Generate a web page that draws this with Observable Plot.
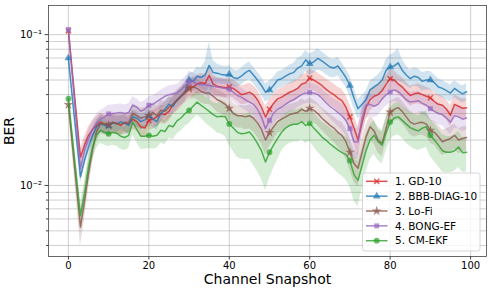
<!DOCTYPE html>
<html><head><meta charset="utf-8">
<script src="https://cdn.jsdelivr.net/npm/d3@7"></script>
<script src="https://cdn.jsdelivr.net/npm/@observablehq/plot@0.6"></script>
<style>body{margin:0;background:#fff}svg{display:block}</style>
</head><body><div id="chart"></div>
<script>
const snapshots = d3.range(100);
const seriesNames = ["1. GD-10", "2. BBB-DIAG-10", "3. Lo-Fi", "4. BONG-EF", "5. CM-EKF"];
const xTicks = [0, 20, 40, 60, 80, 100];
const yMajorTicks = [0.01, 0.1];
const yMajorLabels = ["10⁻²", "10⁻¹"];
const yMinorTicks = [0.004,0.005,0.006,0.007,0.008,0.009,0.02,0.03,0.04,0.05,0.06,0.07,0.08,0.09];

const gd10 = [0.106,0.0557,0.0293,0.0154,0.0185,0.0215,0.0235,0.0250,0.0263,0.0255,
0.0250,0.0262,0.0258,0.0250,0.0262,0.0255,0.0275,0.0265,0.0245,0.0240,
0.0270,0.0275,0.0285,0.0300,0.0295,0.0310,0.0345,0.0365,0.0390,0.0410,
0.0445,0.0450,0.0470,0.0480,0.0475,0.0537,0.0470,0.0455,0.0450,0.0445,
0.0450,0.0440,0.0420,0.0400,0.0405,0.0416,0.0400,0.0370,0.0330,0.0284,
0.0320,0.0350,0.0375,0.0385,0.0400,0.0415,0.0425,0.0440,0.0470,0.0480,
0.0515,0.0500,0.0480,0.0460,0.0435,0.0416,0.0400,0.0380,0.0365,0.0330,
0.0285,0.0240,0.0201,0.0260,0.0330,0.0370,0.0390,0.0400,0.0425,0.0470,
0.0510,0.0500,0.0470,0.0450,0.0420,0.0395,0.0405,0.0410,0.0400,0.0390,
0.0381,0.0360,0.0345,0.0340,0.0320,0.0292,0.0345,0.0335,0.0325,0.0328];

const bbbDiag10 = [0.070,0.038,0.021,0.0114,0.0147,0.0179,0.0215,0.0244,0.0257,0.0250,
0.0248,0.0262,0.0255,0.0265,0.0258,0.0250,0.0285,0.0280,0.0265,0.0272,
0.0290,0.0275,0.0265,0.0300,0.0320,0.0345,0.0335,0.0370,0.0390,0.0420,
0.0500,0.0490,0.0530,0.0520,0.0540,0.0625,0.0560,0.0555,0.0545,0.0540,
0.0545,0.0520,0.0510,0.0530,0.0560,0.0580,0.0540,0.0500,0.0460,0.0415,
0.0430,0.0460,0.0500,0.0510,0.0530,0.0550,0.0560,0.0600,0.0620,0.0680,
0.0640,0.0660,0.0695,0.0670,0.0640,0.0610,0.0600,0.0620,0.0570,0.0520,
0.0460,0.0380,0.0323,0.0345,0.0370,0.0430,0.0450,0.0470,0.0500,0.0580,
0.0610,0.0620,0.0650,0.0580,0.0540,0.0510,0.0530,0.0520,0.0490,0.0500,
0.0500,0.0480,0.0450,0.0440,0.0425,0.0410,0.0440,0.0420,0.0405,0.0418];

const loFi = [0.0343,0.0184,0.0099,0.0053,0.0078,0.0120,0.0172,0.0228,0.0258,0.0255,
0.0251,0.0260,0.0258,0.0255,0.0260,0.0262,0.0300,0.0290,0.0280,0.0285,
0.0290,0.0305,0.0290,0.0315,0.0310,0.0330,0.0345,0.0370,0.0390,0.0420,
0.0438,0.0450,0.0440,0.0420,0.0410,0.0410,0.0390,0.0370,0.0360,0.0345,
0.0325,0.0300,0.0290,0.0290,0.0285,0.0290,0.0280,0.0260,0.0235,0.0200,
0.0224,0.0245,0.0265,0.0275,0.0285,0.0295,0.0300,0.0305,0.0320,0.0310,
0.0325,0.0315,0.0300,0.0280,0.0265,0.0251,0.0240,0.0225,0.0215,0.0195,
0.0166,0.0140,0.0130,0.0165,0.0210,0.0245,0.0230,0.0200,0.0190,0.0240,
0.0306,0.0320,0.0328,0.0310,0.0285,0.0263,0.0255,0.0260,0.0262,0.0255,
0.0232,0.0225,0.0210,0.0195,0.0200,0.0205,0.0215,0.0200,0.0205,0.0208];

const bongEf = [0.108,0.0532,0.0262,0.0129,0.0170,0.0205,0.0235,0.0260,0.0275,0.0285,
0.0298,0.0300,0.0302,0.0305,0.0300,0.0305,0.0340,0.0330,0.0310,0.0320,
0.0340,0.0345,0.0360,0.0375,0.0390,0.0400,0.0405,0.0410,0.0430,0.0460,
0.0485,0.0490,0.0470,0.0465,0.0465,0.0460,0.0455,0.0450,0.0445,0.0440,
0.0435,0.0415,0.0395,0.0385,0.0370,0.0357,0.0345,0.0320,0.0285,0.0238,
0.0270,0.0300,0.0320,0.0330,0.0345,0.0360,0.0370,0.0385,0.0400,0.0410,
0.0414,0.0410,0.0400,0.0380,0.0355,0.0335,0.0320,0.0305,0.0290,0.0270,
0.0238,0.0195,0.0194,0.0280,0.0340,0.0345,0.0335,0.0345,0.0375,0.0400,
0.0416,0.0430,0.0420,0.0395,0.0370,0.0357,0.0360,0.0365,0.0350,0.0340,
0.0323,0.0310,0.0300,0.0295,0.0280,0.0263,0.0290,0.0285,0.0275,0.0280];

const cmEkf = [0.0376,0.0207,0.0114,0.0063,0.0088,0.0132,0.0179,0.0215,0.0232,0.0225,
0.0220,0.0225,0.0222,0.0212,0.0208,0.0215,0.0262,0.0235,0.0212,0.0212,
0.0215,0.0212,0.0215,0.0232,0.0228,0.0250,0.0245,0.0268,0.0280,0.0300,
0.0314,0.0335,0.0357,0.0340,0.0325,0.0310,0.0295,0.0285,0.0288,0.0285,
0.0256,0.0240,0.0225,0.0220,0.0222,0.0226,0.0210,0.0190,0.0170,0.0143,
0.0166,0.0185,0.0205,0.0225,0.0240,0.0250,0.0255,0.0255,0.0265,0.0250,
0.0258,0.0240,0.0225,0.0210,0.0200,0.0189,0.0180,0.0172,0.0165,0.0160,
0.0146,0.0118,0.0108,0.0135,0.0170,0.0200,0.0215,0.0195,0.0185,0.0225,
0.0263,0.0280,0.0285,0.0270,0.0255,0.0242,0.0235,0.0230,0.0240,0.0245,
0.0215,0.0200,0.0185,0.0170,0.0166,0.0166,0.0170,0.0180,0.0165,0.0166];

// relative half-width of the shaded band (percent of mean)
const gd10Spread = [8,10,12,14,14,14,14,14,14,14, 14,14,14,14,14,14,14,14,14,14,
14,14,14,14,14,14,14,14,14,14, 14,14,14,15,15,16,15,14,14,14,
14,14,14,14,15,15,15,16,17,18, 16,15,15,15,15,15,15,15,15,15,
15,15,16,16,17,18,18,18,19,20, 20,22,22,20,18,16,15,15,15,15,
15,15,15,15,15,15,15,15,15,15, 15,15,15,15,15,16,15,15,15,15];
const bbbSpread = [10,10,10,10,10,10,12,12,12,12, 12,12,12,12,12,12,12,12,12,12,
12,12,12,12,12,12,12,12,13,14, 14,14,15,16,22,42,20,15,14,14,
14,13,13,13,13,13,13,13,14,14, 14,13,13,13,13,14,15,16,16,16,
16,16,16,15,15,14,14,14,14,14, 15,15,15,14,14,14,14,15,16,18,
20,22,24,18,15,14,14,14,14,14, 14,13,13,13,13,13,13,13,13,13];
const loFiSpread = [10,15,20,25,25,22,18,16,15,15, 16,16,16,16,16,16,16,16,16,16,
16,16,16,16,16,16,16,16,16,16, 16,16,16,16,16,16,16,17,17,17,
17,17,17,17,18,18,19,20,20,20, 19,18,17,17,17,17,17,17,17,17,
17,17,17,17,18,18,19,20,22,23, 24,25,25,22,20,18,18,18,18,18,
17,17,17,17,17,18,18,18,18,18, 18,18,19,19,19,19,19,19,19,19];
const bongSpread = [8,10,12,14,14,14,14,14,14,14, 14,14,14,14,14,14,14,14,14,14,
14,14,14,14,14,14,14,14,14,14, 14,14,14,14,14,14,14,14,14,14,
14,14,14,15,15,15,16,17,18,18, 17,16,15,15,15,15,15,15,15,15,
15,15,15,16,16,17,18,19,20,21, 22,23,23,20,18,17,16,16,16,16,
16,16,16,16,16,16,16,16,16,16, 16,16,16,16,17,17,17,17,17,17];
const cmEkfSpread = [10,15,18,20,20,20,18,18,18,18, 18,18,18,18,18,18,18,18,18,18,
18,18,18,18,18,18,18,18,18,18, 18,18,18,18,20,20,20,22,24,26,
28,30,32,32,33,34,35,35,35,35, 33,30,28,25,24,24,24,24,24,24,
24,25,26,26,27,28,28,30,30,32, 33,33,33,30,28,26,25,25,25,25,
24,24,24,24,25,25,26,26,27,27, 28,28,28,28,27,27,27,27,26,26];

const seriesValues = [gd10, bbbDiag10, loFi, bongEf, cmEkf];
const seriesSpreads = [gd10Spread, bbbSpread, loFiSpread, bongSpread, cmEkfSpread];
const colors = ["#d62728", "#1f77b4", "#8c564b", "#9467bd", "#2ca02c"];

// filled "X" marker like matplotlib's 'X'
const symbolX = {
  draw(ctx, size) {
    const r = Math.sqrt(size) * 0.6, w = r * 0.36;
    const pts = [[0,-w],[r-w,-r],[r,-r+w],[w,0],[r,r-w],[r-w,r],[0,w],[-r+w,r],[-r,r-w],[-w,0],[-r,-r+w],[-r+w,-r]];
    pts.forEach(([px,py], i) => { if (i === 0) ctx.moveTo(px, py); else ctx.lineTo(px, py); });
    ctx.closePath();
  }
};
const symbols = [symbolX, d3.symbolTriangle, d3.symbolStar, d3.symbolSquare, d3.symbolCircle];
const markerR = [2.9, 2.9, 3.1, 2.8, 2.9];

const rows = [];
seriesNames.forEach((name, k) => {
  snapshots.forEach((s, i) => {
    const v = seriesValues[k][i], sp = seriesSpreads[k][i] / 100;
    rows.push({name, k, s, v, lo: v * (1 - sp), hi: v * (1 + sp)});
  });
});

const font = "DejaVu Sans";
const marks = [
  Plot.gridY(yMinorTicks.concat(yMajorTicks), {stroke: "#b0b0b0", strokeOpacity: 0.75, strokeWidth: 0.8}),
  Plot.gridX(xTicks, {stroke: "#b0b0b0", strokeOpacity: 0.75, strokeWidth: 0.8}),
];
seriesNames.forEach((name, k) => {
  const d = rows.filter(r => r.k === k);
  marks.push(Plot.areaY(d, {x: "s", y1: "lo", y2: "hi", fill: colors[k], fillOpacity: 0.2, curve: "linear"}));
});
seriesNames.forEach((name, k) => {
  const d = rows.filter(r => r.k === k);
  marks.push(Plot.lineY(d, {x: "s", y: "v", stroke: colors[k], strokeWidth: 1.5, strokeOpacity: 0.8}));
  marks.push(Plot.dot(d.filter(r => r.s % 10 === 0), {x: "s", y: "v", fill: colors[k], fillOpacity: 0.7, stroke: "none", symbol: () => symbols[k], r: markerR[k]}));
});
marks.push(
  Plot.frame({stroke: "#444", strokeWidth: 0.8}),
  Plot.axisX(xTicks, {tickSize: 3.5, tickPadding: 1.5, fontSize: 10, label: null, stroke: "#444"}),
  Plot.axisY(yMajorTicks, {tickSize: 3.5, tickPadding: 3, fontSize: 10, label: null, tickFormat: d => yMajorLabels[yMajorTicks.indexOf(d)], stroke: "#444"}),
  Plot.axisY(yMinorTicks, {tickSize: 2, tickFormat: () => "", label: null, stroke: "#444"}),
  Plot.text(["Channel Snapshot"], {frameAnchor: "bottom", lineAnchor: "middle", textAnchor: "middle", dy: 23.5, fontSize: 14, fill: "#000"}),
  Plot.text(["BER"], {frameAnchor: "left", lineAnchor: "middle", textAnchor: "middle", dx: -38.5, rotate: -90, fontSize: 14, fill: "#000"})
);

const chart = Plot.plot({
  width: 491, height: 292,
  marginLeft: 48, marginRight: 5, marginTop: 5, marginBottom: 36,
  style: {fontFamily: font, color: "#000", background: "#fff", overflow: "visible"},
  x: {domain: [-4.95, 103.95]},
  y: {type: "log", domain: [0.00338, 0.156]},
  marks
});

// legend (lower right, inside axes)
const svg = d3.select(chart);
const lg = svg.append("g").attr("font-family", font).attr("font-size", 10.5).attr("text-anchor", "start");
lg.append("rect").attr("x", 362.5).attr("y", 173).attr("width", 117.5).attr("height", 78)
  .attr("rx", 2.5).attr("fill", "#fff").attr("fill-opacity", 0.8).attr("stroke", "#cccccc").attr("stroke-width", 0.8);
seriesNames.forEach((name, k) => {
  const cy = 181.3 + k * 14.85;
  lg.append("line").attr("x1", 366).attr("x2", 387.5).attr("y1", cy).attr("y2", cy)
    .attr("stroke", colors[k]).attr("stroke-width", 1.5).attr("stroke-opacity", 0.8);
  lg.append("path").attr("d", d3.symbol(symbols[k], Math.PI * markerR[k] * markerR[k])())
    .attr("transform", `translate(376.7,${cy})`).attr("fill", colors[k]).attr("fill-opacity", 0.7);
  lg.append("text").attr("x", 395).attr("y", cy).attr("dy", "0.35em").attr("fill", "#000").text(name);
});

document.getElementById("chart").appendChild(chart);
</script>
</body></html>
